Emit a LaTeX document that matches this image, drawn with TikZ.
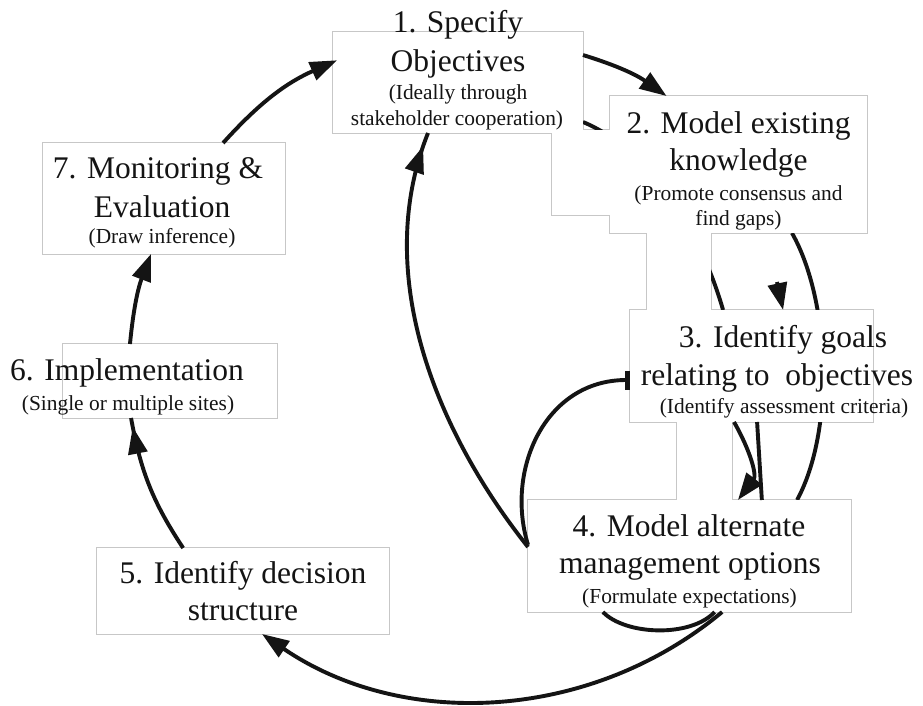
\documentclass[tikz,border=0pt]{standalone}
\usepackage{fontspec}
\setmainfont{Liberation Serif}
\usetikzlibrary{arrows.meta,calc,decorations.markings}
\begin{document}
\begin{tikzpicture}[x=1pt,y=1pt,
  boxframe/.style={draw=black!22, line width=2pt, inner sep=0pt, outer sep=0pt},
  conn/.style={draw=black!92, line width=3.9pt},
  arr/.style={conn, -{Triangle[length=27pt,width=19pt]}},
  midarr/.style={conn, postaction={decorate}, decoration={markings,
     mark=at position #1 with {\arrow{Triangle[length=27pt,width=19pt]}}}},
  tmain/.style={font=\fontsize{31.5}{37}\selectfont, text=black!92, inner sep=0pt, anchor=base},
  tsub/.style={font=\fontsize{21.4}{25}\selectfont, text=black!92, inner sep=0pt, anchor=base}]

\fill[white] (0,0) rectangle (923,-706);
\useasboundingbox (0,0) rectangle (923,-706);

% frames (borders first)
\node[boxframe, minimum width=250pt, minimum height=101pt] (b1) at (458,-82.5) {};
\node[boxframe, minimum width=257pt, minimum height=137pt] (b2) at (738.5,-164.5) {};
\node[boxframe, minimum width=243pt, minimum height=112pt] (b3) at (751.5,-366) {};
\node[boxframe, minimum width=323pt, minimum height=112pt] (b4) at (689.5,-556) {};
\node[boxframe, minimum width=292pt, minimum height=86pt] (b5) at (243,-591) {};
\node[boxframe, minimum width=214pt, minimum height=74pt] (b6) at (170,-381) {};
\node[boxframe, minimum width=242pt, minimum height=111pt] (b7) at (164,-198.5) {};
\node[boxframe, minimum width=78pt, minimum height=85pt] (ra) at (591,-172.5) {};
\node[boxframe, minimum width=64pt, minimum height=100pt] (rc) at (679,-270) {};
\node[boxframe, minimum width=55pt, minimum height=100pt] (rd) at (704.5,-460) {};

% connectors that pass behind the boxes
\draw[conn] ($(b1.north east)!0.891!(b1.south east)$) .. controls (650,-150) and (700,-230) .. ($(b3.north west)!0.383!(b3.north east)$);
\draw[conn] ($(b2.south west)!0.708!(b2.south east)$) .. controls (830,-300) and (835,-430) .. ($(b4.north west)!0.833!(b4.north east)$);

% white fills (union outline)
\foreach \n in {b1,b2,b3,b4,b5,b6,b7,ra,rc,rd}
  \fill[white] (\n.north west) rectangle (\n.south east);

% texts
\node[tmain] (t1a) at (458,-33) {1. Specify};
\node[tmain] (t1b) at (458,-72) {Objectives};
\node[tsub] (s1a) at (458,-100) {(Ideally through};
\node[tsub] (s1b) at (457,-125) {stakeholder cooperation)};

\node[tmain] (t2a) at (738.5,-133) {2. Model existing};
\node[tmain] (t2b) at (738.5,-170) {knowledge};
\node[tsub] (s2a) at (738.5,-200) {(Promote consensus and};
\node[tsub] (s2b) at (738.5,-225) {find gaps)};

\node[tmain] (t3a) at (783,-347) {3. Identify goals};
\node[tmain] (t3b) at (777,-385) {relating to\ \ objectives};
\node[tsub] (s3a) at (784,-413) {(Identify assessment criteria)};

\node[tmain] (t4a) at (689,-536) {4. Model alternate};
\node[tmain] (t4b) at (690,-573) {management options};
\node[tsub] (s4a) at (689.5,-603) {(Formulate expectations)};

\node[tmain] (t5a) at (243,-583) {5. Identify decision};
\node[tmain] (t5b) at (243,-620) {structure};

\node[tmain] (t6a) at (127,-380) {6. Implementation};
\node[tsub] (s6a) at (128,-410) {(Single or multiple sites)};

\node[tmain] (t7a) at (158,-178) {7. Monitoring \&};
\node[tmain] (t7b) at (162,-217) {Evaluation};
\node[tsub] (s7a) at (162,-243) {(Draw inference)};

% visible connectors
\draw[arr] ($(b7.north west)!0.744!(b7.north east)$) to[bend left=12] ($(b1.north west)!0.28!(b1.south west)+(4,0)$);
\draw[arr] ($(b1.north east)!0.228!(b1.south east)$) to[bend left=9] ($(b2.north west)!0.22!(b2.north east)$);
\coordinate (a23) at (777,-282);
\draw[arr] (a23) -- ($(b3.north west)!0.63!(b3.north east)$);
\draw[arr] ($(b3.south west)!0.428!(b3.south east)$) .. controls (750,-450) and (757,-475) .. ($(b4.north west)!0.65!(b4.north east)$);
\draw[conn, -{Rectangle[length=5pt,width=19pt]}] ($(b4.north west)!0.40!(b4.south west)$) .. controls (505,-470) and (545,-380) .. ($(b3.north west)!0.625!(b3.south west)$);
\draw[conn] ($(b4.south west)!0.232!(b4.south east)$) .. controls (625,-635) and (690,-638) .. ($(b4.south west)!0.578!(b4.south east)$);
\draw[conn] ($(b4.north west)!0.724!(b4.north east)$) -- ($(b3.south west)!0.523!(b3.south east)$);
\draw[midarr=-14pt] ($(b4.north west)!0.42!(b4.south west)$) .. controls (435,-430) and (372,-273) .. ($(b1.south west)!0.38!(b1.south east)$);
\draw[arr] ($(b4.south west)!0.601!(b4.south east)$) to[bend left=37, looseness=0.95] ($(b5.south west)!0.565!(b5.south east)$);
\draw[midarr=-9pt] ($(b5.north west)!0.295!(b5.north east)$) to[bend left=11.6] ($(b6.south west)!0.318!(b6.south east)$);
\draw[arr] ($(b6.north west)!0.313!(b6.north east)$) to[bend left=7.6] ($(b7.south west)!0.446!(b7.south east)$);
\end{tikzpicture}
\end{document}
